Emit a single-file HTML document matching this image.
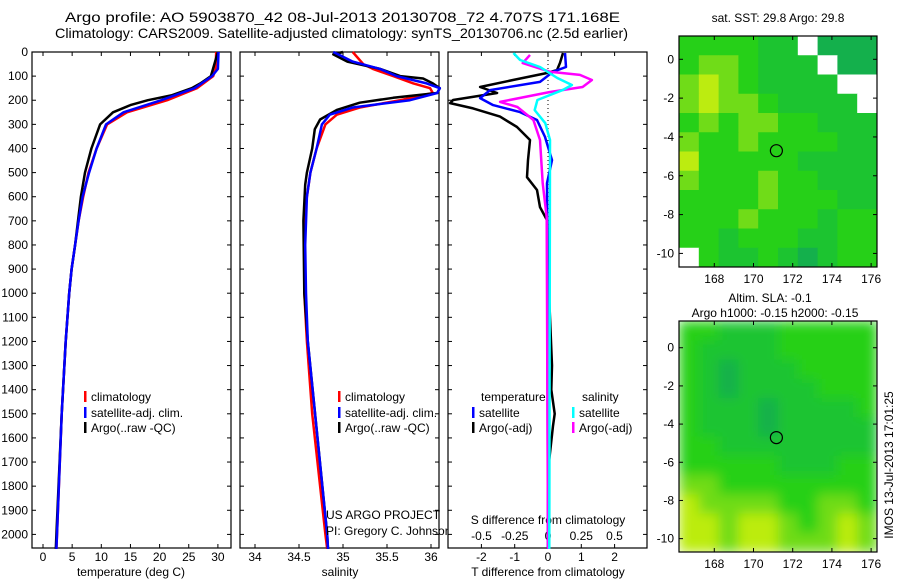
<!DOCTYPE html>
<html><head><meta charset="utf-8"><style>
body{margin:0;background:#fff;}
svg{display:block;font-family:"Liberation Sans",sans-serif;}
text{font-size:12px;fill:#000;}
</style></head><body>
<svg id="c" width="900" height="580" xmlns="http://www.w3.org/2000/svg"></svg>
<script>
// ---- data ----
const tDepth=[0,70,100,150,200,250,300,400,500,600,700,800,900,1000,1200,1500,2000,2060];
const tClim=[29.7,29.6,29.2,26.4,21.3,14.4,11,9.2,7.8,6.9,6.1,5.5,4.9,4.5,3.9,3.2,2.4,2.3];
const tSat=[30.1,30.0,29.0,26,20.3,13.8,10.8,9.2,7.9,6.8,6.1,5.5,4.9,4.5,3.9,3.2,2.4,2.3];
const tArgoDepth=[0,100,130,150,180,200,220,250,300,400,500,600,700,800,900,1000,1200,1500,2000,2060];
const tArgo=[30.0,28.8,27,25.5,22,18.0,15,12,9.8,8.3,7.2,6.5,6.0,5.5,4.9,4.5,3.9,3.2,2.3,2.2];
const sClimDepth=[0,50,70,100,130,150,170,200,230,260,300,400,500,600,700,1000,1200,1500,2000,2060];
const sClim=[35.11,35.23,35.34,35.57,35.8,35.99,36.02,35.65,35.19,34.93,34.8,34.7,34.63,34.59,34.56,34.56,34.59,34.65,34.8,34.82];
const sSatDepth=[0,20,40,70,100,130,150,170,200,230,260,300,400,500,600,800,1000,1200,2000,2060];
const sSat=[34.89,35.0,35.11,35.42,35.61,35.95,36.1,36.07,35.76,35.11,34.85,34.76,34.7,34.63,34.59,34.57,34.58,34.6,34.82,34.83];
const sArgoDepth=[0,10,40,70,100,110,130,150,170,190,210,240,280,320,400,500,550,700,1000,1200,2000,2060];
const sArgo=[35.0,34.89,35.05,35.42,35.65,35.91,36.02,36.1,36.07,35.57,35.19,34.93,34.74,34.68,34.65,34.59,34.57,34.55,34.56,34.6,34.82,34.83];
const dTArgoDepth=[4,45,75,87,116,145,170,199,212,234,268,311,365,448,519,572,643,697,900,1300,1400,1500,1550,1700,2060];
const dTArgo=[0.45,0.36,0.27,-0.03,-1.05,-2.04,-1.53,-2.85,-2.94,-2.25,-1.44,-0.93,-0.54,-0.6,-0.63,-0.33,-0.24,-0.03,0,0.12,0.1,0.2,0.15,0.03,0];
const dTSatDepth=[4,62,82,124,158,191,220,249,282,352,448,544,2060];
const dTSat=[0.51,0.54,0.15,-0.24,-1.74,-2.04,-1.65,-0.84,-0.33,-0.09,0.12,-0.03,0];
const dSArgoDepth=[12,46,82,95,116,145,166,207,228,282,365,544,685,2060];
const dSArgo=[-0.135,-0.19,0.015,0.24,0.33,0.26,0.015,-0.36,-0.23,-0.11,-0.06,-0.04,-0.01,0];
const dSSatDepth=[4,33,62,108,137,158,199,241,295,365,2060];
const dSSat=[-0.26,-0.21,-0.06,0.07,0.18,0.11,-0.08,-0.1,-0.02,0.015,0.01];
const depthTicks=[0,100,200,300,400,500,600,700,800,900,1000,1100,1200,1300,1400,1500,1600,1700,1800,1900,2000];
const tTicks=[0,5,10,15,20,25,30];
const sTicks=[34,34.5,35,35.5,36];
const dTTicks=[-2,-1,0,1,2];
const dSTicks=[-0.5,-0.25,0,0.25,0.5];
const lonTicks=[168,170,172,174,176];
const latTicks=[0,-2,-4,-6,-8,-10];
const sstGrid=[
[2,2,2,2,1,1,5,0,0,0],[2,3,3,2,1,1,1,5,0,0],[3,4,3,2,1,1,1,1,5,5],[3,4,3,3,2,1,1,1,1,5],
[2,3,2,3,3,2,2,1,1,1],[3,2,2,3,2,2,2,2,1,1],[4,2,2,2,2,2,1,1,1,1],[3,2,2,2,3,2,2,1,1,1],
[2,2,2,2,3,2,2,2,1,1],[2,2,2,3,2,2,2,1,2,2],[2,2,1,2,2,2,1,1,2,2],[5,2,1,1,2,1,0,1,2,2]];
const slaGrid=[
[2,2,1,1,1,2,2,2,2,2],[2,1,1,1,1,2,2,2,2,2],[2,1,0,1,1,1,2,2,2,2],[2,1,0,1,1,1,1,2,2,2],
[2,1,1,1,0,1,1,1,1,2],[2,1,1,1,0,1,1,1,1,1],[2,2,1,1,1,1,1,1,1,1],[2,2,2,2,2,1,1,1,2,2],
[3,3,2,2,2,2,2,2,2,2],[4,3,3,3,3,2,2,3,3,2],[4,4,3,4,4,3,2,3,4,3],[4,4,3,4,4,3,3,3,4,3]];
const argoLon=171.168, argoLat=-4.707;

// ---- helpers ----
const svg=document.getElementById('c');
const NS='http://www.w3.org/2000/svg';
function mk(tag,attrs,parent){const e=document.createElementNS(NS,tag);for(const k in attrs)e.setAttribute(k,attrs[k]);(parent||svg).appendChild(e);return e;}
function txt(x,y,s,anchor,parent,size){const e=mk('text',{x:x,y:y,'text-anchor':anchor||'start'},parent);if(size)e.style.fontSize=size+'px';e.textContent=s;return e;}
const yD=d=>52+d*0.2412;
const xT=t=>43+5.83*t;
const xS=s=>255+88*(s-34);
const xDT=t=>548+33.3*t;
const xDS=s=>548+133*s;
const PT=52,PB=548;
function panel(x0,x1,name){
 const g=mk('g',{});
 
 
 mk('rect',{x:x0,y:PT,width:x1-x0,height:PB-PT,fill:'#fff',stroke:'#000','stroke-width':1.2},g);
 depthTicks.forEach(d=>{const y=yD(d);mk('line',{x1:x0,x2:x0+4,y1:y,y2:y,stroke:'#000'},g);mk('line',{x1:x1-4,x2:x1,y1:y,y2:y,stroke:'#000'},g);});
 return g;
}
function line(g,xs,ds,xf,color,w,name){
 const pts=xs.map((v,i)=>xf(v).toFixed(1)+','+yD(ds[i]).toFixed(1)).join(' ');
 const p=mk('polyline',{points:pts,fill:'none',stroke:color,'stroke-width':w,'stroke-linejoin':'round'},g);
 
 
}
function legItem(g,x,y,color,label){
 mk('rect',{x:x,y:y-10,width:2.5,height:11,fill:color},g);
 txt(x+7,y,label,'start',g);
}

// titles
const tg=mk('g',{});


const t1=txt(65,22,'Argo profile: AO 5903870_42 08-Jul-2013 20130708_72 4.707S 171.168E','start',tg,14);
t1.setAttribute('textLength','555');t1.setAttribute('lengthAdjust','spacingAndGlyphs');
const t2=txt(55,38,'Climatology: CARS2009. Satellite-adjusted climatology: synTS_20130706.nc (2.5d earlier)','start',tg,14);
t2.setAttribute('textLength','573');t2.setAttribute('lengthAdjust','spacingAndGlyphs');

// depth labels
const yl=mk('g',{});


depthTicks.forEach(d=>txt(28,yD(d)+4,String(d),'end',yl));

// panel 1 temperature
const p1=panel(32,231,'temperature-panel');
tTicks.forEach(t=>{const x=xT(t);mk('line',{x1:x,x2:x,y1:PB-4,y2:PB,stroke:'#000'},p1);mk('line',{x1:x,x2:x,y1:PT,y2:PT+4,stroke:'#000'},p1);txt(x,561,String(t),'middle',p1);});
txt(131,576,'temperature (deg C)','middle',p1);
line(p1,tClim,tDepth,xT,'#f00',2.5,'temperature-climatology-line');
line(p1,tArgo,tArgoDepth,xT,'#000',2.5,'temperature-argo-line');
line(p1,tSat,tDepth,xT,'#00f',2.5,'temperature-satellite-line');
const l1=mk('g',{},p1);
legItem(l1,84,401,'#f00','climatology');legItem(l1,84,417,'#00f','satellite-adj. clim.');legItem(l1,84,432,'#000','Argo(..raw -QC)');

// panel 2 salinity
const p2=panel(240,439,'salinity-panel');
sTicks.forEach(s=>{const x=xS(s);mk('line',{x1:x,x2:x,y1:PB-4,y2:PB,stroke:'#000'},p2);mk('line',{x1:x,x2:x,y1:PT,y2:PT+4,stroke:'#000'},p2);txt(x,561,String(s),'middle',p2);});
txt(340,576,'salinity','middle',p2);
line(p2,sClim,sClimDepth,xS,'#f00',2.5,'salinity-climatology-line');
line(p2,sArgo,sArgoDepth,xS,'#000',2.5,'salinity-argo-line');
line(p2,sSat,sSatDepth,xS,'#00f',2.5,'salinity-satellite-line');
const l2=mk('g',{},p2);
legItem(l2,338,401,'#f00','climatology');legItem(l2,338,417,'#00f','satellite-adj. clim.');legItem(l2,338,432,'#000','Argo(..raw -QC)');
txt(326,519,'US ARGO PROJECT','start',p2);
txt(326,535,'PI: Gregory C. Johnson','start',p2);

// panel 3 differences
const p3=panel(448,647,'difference-panel');
mk('line',{x1:xDT(0),x2:xDT(0),y1:PT,y2:PB,stroke:'#000','stroke-dasharray':'1,3'},p3);
dTTicks.forEach(t=>{const x=xDT(t);mk('line',{x1:x,x2:x,y1:PB-4,y2:PB,stroke:'#000'},p3);mk('line',{x1:x,x2:x,y1:PT,y2:PT+4,stroke:'#000'},p3);txt(x,561,String(t),'middle',p3);});
dSTicks.forEach(s=>txt(xDS(s),540,String(s),'middle',p3));
txt(548,524,'S difference from climatology','middle',p3);
txt(548,576,'T difference from climatology','middle',p3);
line(p3,dTArgo,dTArgoDepth,xDT,'#000',2.5,'t-diff-argo-line');
line(p3,dTSat,dTSatDepth,xDT,'#00f',2.5,'t-diff-satellite-line');
line(p3,dSArgo,dSArgoDepth,xDS,'#f0f',2.5,'s-diff-argo-line');
line(p3,dSSat,dSSatDepth,xDS,'#0ff',2.5,'s-diff-satellite-line');
const l3=mk('g',{},p3);
txt(481,401,'temperature','start',l3);txt(582,401,'salinity','start',l3);
legItem(l3,472,417,'#00f','satellite');legItem(l3,472,432,'#000','Argo(-adj)');
legItem(l3,572,417,'#0ff','satellite');legItem(l3,572,432,'#f0f','Argo(-adj)');

// maps
const palette=['#14b04c','#1cc430','#26d018','#70dc18','#bcec10','#ffffff'];
function map(grid,top,bot,latTop,name,blur){
 const L=679,R=877,lon0=166.2,lon1=176.3,latBot=-10.7;
 const xL=lo=>L+(lo-lon0)/(lon1-lon0)*(R-L);
 const yL=la=>top+(latTop-la)/(latTop-latBot)*(bot-top);
 const g=mk('g',{});
 
 
 const cg=mk('g',blur?{filter:'url(#bl)'}:{},g);
 const nr=grid.length,nc=grid[0].length;
 grid.forEach((row,r)=>row.forEach((v,c)=>{
   const lo0=lon0+c*(lon1-lon0)/nc,lo1=lon0+(c+1)*(lon1-lon0)/nc;
   const la0=latTop-r*(latTop-latBot)/nr,la1=latTop-(r+1)*(latTop-latBot)/nr;
   const cell=mk('rect',{x:xL(lo0),y:yL(la0),width:xL(lo1)-xL(lo0)+0.5,height:yL(la1)-yL(la0)+0.5,fill:palette[v]},cg);
   
   
 }));
 mk('rect',{x:L,y:top,width:R-L,height:bot-top,fill:'none',stroke:'#000','stroke-width':1.2},g);
 lonTicks.forEach(lo=>{const x=xL(lo);mk('line',{x1:x,x2:x,y1:bot-4,y2:bot,stroke:'#000'},g);mk('line',{x1:x,x2:x,y1:top,y2:top+4,stroke:'#000'},g);txt(x,bot+16,String(lo),'middle',g);});
 latTicks.forEach(la=>{const y=yL(la);mk('line',{x1:L,x2:L+4,y1:y,y2:y,stroke:'#000'},g);mk('line',{x1:R-4,x2:R,y1:y,y2:y,stroke:'#000'},g);txt(L-5,y+4,String(la),'end',g);});
 const m=mk('circle',{cx:xL(argoLon),cy:yL(argoLat),r:6,fill:'none',stroke:'#000','stroke-width':1.2},g);
 
 
 return g;
}
const defs=mk('defs',{});
const f=mk('filter',{id:'bl',x:'0',y:'0',width:'1',height:'1'},defs);
mk('feGaussianBlur',{stdDeviation:6,edgeMode:'duplicate'},f);
map(sstGrid,36,267,1.2,'sst-map',false);
txt(778,22,'sat. SST: 29.8  Argo: 29.8','middle');
map(slaGrid,321,552,1.4,'sla-map',true);
txt(770,302,'Altim. SLA: -0.1','middle');
txt(775,317,'Argo h1000: -0.15  h2000: -0.15','middle');
const st=txt(0,0,'IMOS 13-Jul-2013 17:01:25','middle');
st.setAttribute('transform','translate(893,465) rotate(-90)');


</script>
</body></html>
